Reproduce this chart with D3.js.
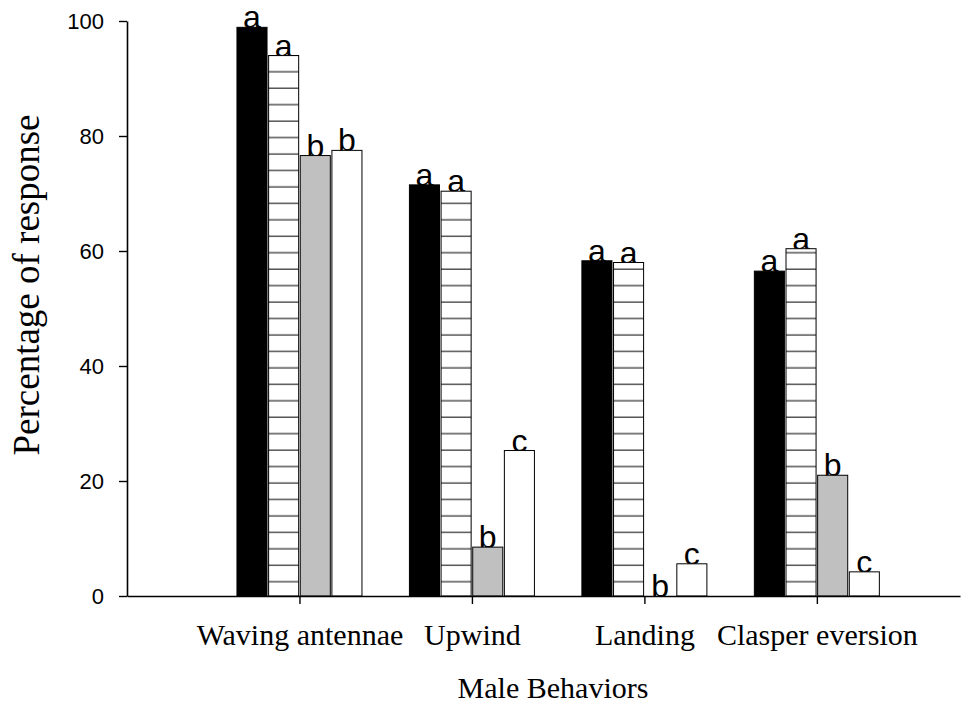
<!DOCTYPE html>
<html>
<head>
<meta charset="utf-8">
<script src="https://cdn.jsdelivr.net/npm/d3@7"></script>
<style>
  html, body { margin: 0; padding: 0; background: #fff; }
  svg { display: block; }
</style>
</head>
<body>
<svg id="chart" width="975" height="709"></svg>
<script>
// Behaviour categories along the x axis
const categories = ["Waving antennae", "Upwind", "Landing", "Clasper eversion"];

// Percentage of males responding, one array per treatment
const seriesBlack   = [98.9, 71.5, 58.3, 56.5];
const seriesHatched = [94.0, 70.4, 58.0, 60.4];
const seriesGray    = [76.6, 8.5, 0, 21.0];
const seriesWhite   = [77.5, 25.3, 5.6, 4.2];

// Significance letters above each bar
const lettersBlack   = ["a", "a", "a", "a"];
const lettersHatched = ["a", "a", "a", "a"];
const lettersGray    = ["b", "b", "b", "b"];
const lettersWhite   = ["b", "c", "c", "c"];

const yTicks = [0, 20, 40, 60, 80, 100];
const yTitle = "Percentage of response";
const xTitle = "Male Behaviors";

// ---- layout ----
const svg = d3.select("#chart");
const plot = { left: 127, right: 960, top: 21, bottom: 596 };

const x = d3.scaleLinear().domain([0, 4.83]).range([plot.left, plot.right]);
const y = d3.scaleLinear().domain([0, 100]).range([plot.bottom, plot.top]);

const seriesStyles = [
  { values: seriesBlack,   letters: lettersBlack,   fill: "#000000" },
  { values: seriesHatched, letters: lettersHatched, fill: "url(#hatch)" },
  { values: seriesGray,    letters: lettersGray,    fill: "#c0c0c0" },
  { values: seriesWhite,   letters: lettersWhite,   fill: "#ffffff" }
];

const groupWidth = 125;
const inner = d3.scaleBand()
  .domain(d3.range(seriesStyles.length))
  .range([-groupWidth / 2, groupWidth / 2])
  .paddingInner(0.05);

// horizontal-line fill for the second treatment
const hatchStep = 16.45;
const defs = svg.append("defs");
const pat = defs.append("pattern")
  .attr("id", "hatch")
  .attr("patternUnits", "userSpaceOnUse")
  .attr("x", 0).attr("y", 0)
  .attr("width", 975).attr("height", hatchStep);
pat.append("rect").attr("width", 975).attr("height", hatchStep).attr("fill", "#fff");
pat.append("rect").attr("x", 0).attr("y", 5.45).attr("width", 975).attr("height", 1).attr("fill", "#000");

// ---- bars and letters ----
const bars = [];
seriesStyles.forEach((s, si) => {
  s.values.forEach((v, ci) => {
    bars.push({ si, ci, v, letter: s.letters[ci], fill: s.fill });
  });
});

const gBars = svg.append("g");

gBars.selectAll("text.letter")
  .data(bars)
  .join("text")
  .attr("class", "letter")
  .attr("x", d => x(d.ci + 1) + inner(d.si) + inner.bandwidth() / 2)
  .attr("y", d => y(d.v) + 1)
  .attr("text-anchor", "middle")
  .attr("font-family", "'Liberation Sans', Arial, sans-serif")
  .attr("font-size", 32)
  .attr("fill", "#000")
  .text(d => d.letter);

gBars.selectAll("rect.bar")
  .data(bars.filter(d => d.v > 0))
  .join("rect")
  .attr("class", "bar")
  .attr("x", d => x(d.ci + 1) + inner(d.si))
  .attr("y", d => y(d.v))
  .attr("width", inner.bandwidth())
  .attr("height", d => y(0) - y(d.v))
  .attr("fill", d => d.fill)
  .attr("stroke", "#000")
  .attr("stroke-width", 1);

// ---- axes ----
const yAxis = d3.axisLeft(y)
  .tickValues(yTicks)
  .tickSize(8)
  .tickSizeOuter(0)
  .tickPadding(15)
  .tickFormat(d3.format("d"));

const gy = svg.append("g")
  .attr("transform", `translate(${plot.left},0)`)
  .call(yAxis);
gy.select(".domain").attr("stroke-width", 1.6);
gy.selectAll(".tick line").attr("stroke-width", 1.4);
gy.selectAll(".tick text")
  .attr("font-family", "'Liberation Sans', Arial, sans-serif")
  .attr("font-size", 22)
  .attr("fill", "#000");

const xAxis = d3.axisBottom(x)
  .tickValues([1, 2, 3, 4])
  .tickSize(8)
  .tickSizeOuter(0)
  .tickPadding(20)
  .tickFormat(d => categories[d - 1]);

const gx = svg.append("g")
  .attr("transform", `translate(0,${plot.bottom})`)
  .call(xAxis);
gx.select(".domain").attr("stroke-width", 1.6);
gx.selectAll(".tick line").attr("stroke-width", 1.4);
gx.selectAll(".tick text")
  .attr("font-family", "'Liberation Serif', 'Times New Roman', serif")
  .attr("font-size", 30)
  .attr("fill", "#000");

// ---- titles ----
svg.append("text")
  .attr("transform", "translate(39,285) rotate(-90)")
  .attr("text-anchor", "middle")
  .attr("font-family", "'Liberation Serif', 'Times New Roman', serif")
  .attr("font-size", 37)
  .attr("fill", "#000")
  .text(yTitle);

svg.append("text")
  .attr("x", 553)
  .attr("y", 698)
  .attr("text-anchor", "middle")
  .attr("font-family", "'Liberation Serif', 'Times New Roman', serif")
  .attr("font-size", 30)
  .attr("fill", "#000")
  .text(xTitle);
</script>
</body>
</html>
